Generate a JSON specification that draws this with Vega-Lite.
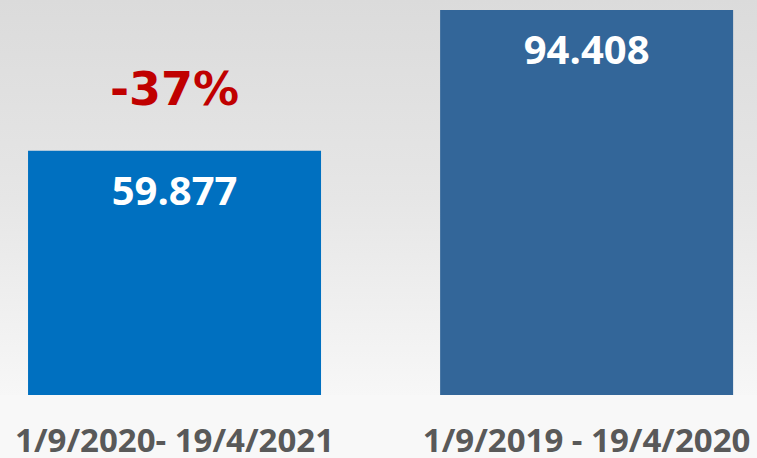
{
  "$schema": "https://vega.github.io/schema/vega-lite/v6.json",
  "width": 757,
  "height": 395,
  "padding": 0,
  "autosize": {"type": "pad"},
  "background": "#f8f8f8",
  "config": {
    "view": {
      "stroke": null,
      "fill": {
        "gradient": "linear", "x1": 0, "y1": 0, "x2": 0, "y2": 1,
        "stops": [
          {"offset": 0, "color": "#dbdbdb"},
          {"offset": 0.5, "color": "#e6e6e6"},
          {"offset": 1, "color": "#f7f7f7"}
        ]
      }
    }
  },
  "data": {
    "values": [
      {"period": "1/9/2020- 19/4/2021", "value": 59877, "label": "59.877", "change": "-37%"},
      {"period": "1/9/2019 - 19/4/2020", "value": 94408, "label": "94.408", "change": ""}
    ]
  },
  "encoding": {
    "x": {
      "field": "period", "type": "nominal", "sort": null,
      "scale": {"paddingInner": 0.289, "paddingOuter": 0.063, "align": 0.54},
      "axis": {
        "title": null, "domain": false, "ticks": false, "grid": false,
        "labelAngle": 0, "labelFont": "Open Sans", "labelFontSize": 33,
        "labelFontWeight": "bold", "labelColor": "#595959", "labelLimit": 0,
        "labelPadding": 46, "labelBaseline": "middle", "labelOverlap": false
      }
    },
    "y": {
      "field": "value", "type": "quantitative",
      "scale": {"domain": [0, 96860], "nice": false, "zero": true},
      "axis": null
    }
  },
  "layer": [
    {
      "mark": {"type": "bar"},
      "encoding": {
        "color": {
          "field": "period", "type": "nominal", "legend": null,
          "scale": {"domain": ["1/9/2020- 19/4/2021", "1/9/2019 - 19/4/2020"], "range": ["#0070C0", "#336699"]}
        }
      }
    },
    {
      "mark": {"type": "text", "font": "Open Sans", "fontSize": 40, "fontWeight": "bold", "color": "#ffffff", "baseline": "middle", "dy": 42},
      "encoding": {"text": {"field": "label"}}
    },
    {
      "transform": [{"filter": "datum.change != ''"}],
      "mark": {"type": "text", "font": "DejaVu Sans", "fontSize": 46, "fontWeight": "bold", "color": "#C00000", "baseline": "middle", "dy": -60},
      "encoding": {"text": {"field": "change"}}
    }
  ]
}
